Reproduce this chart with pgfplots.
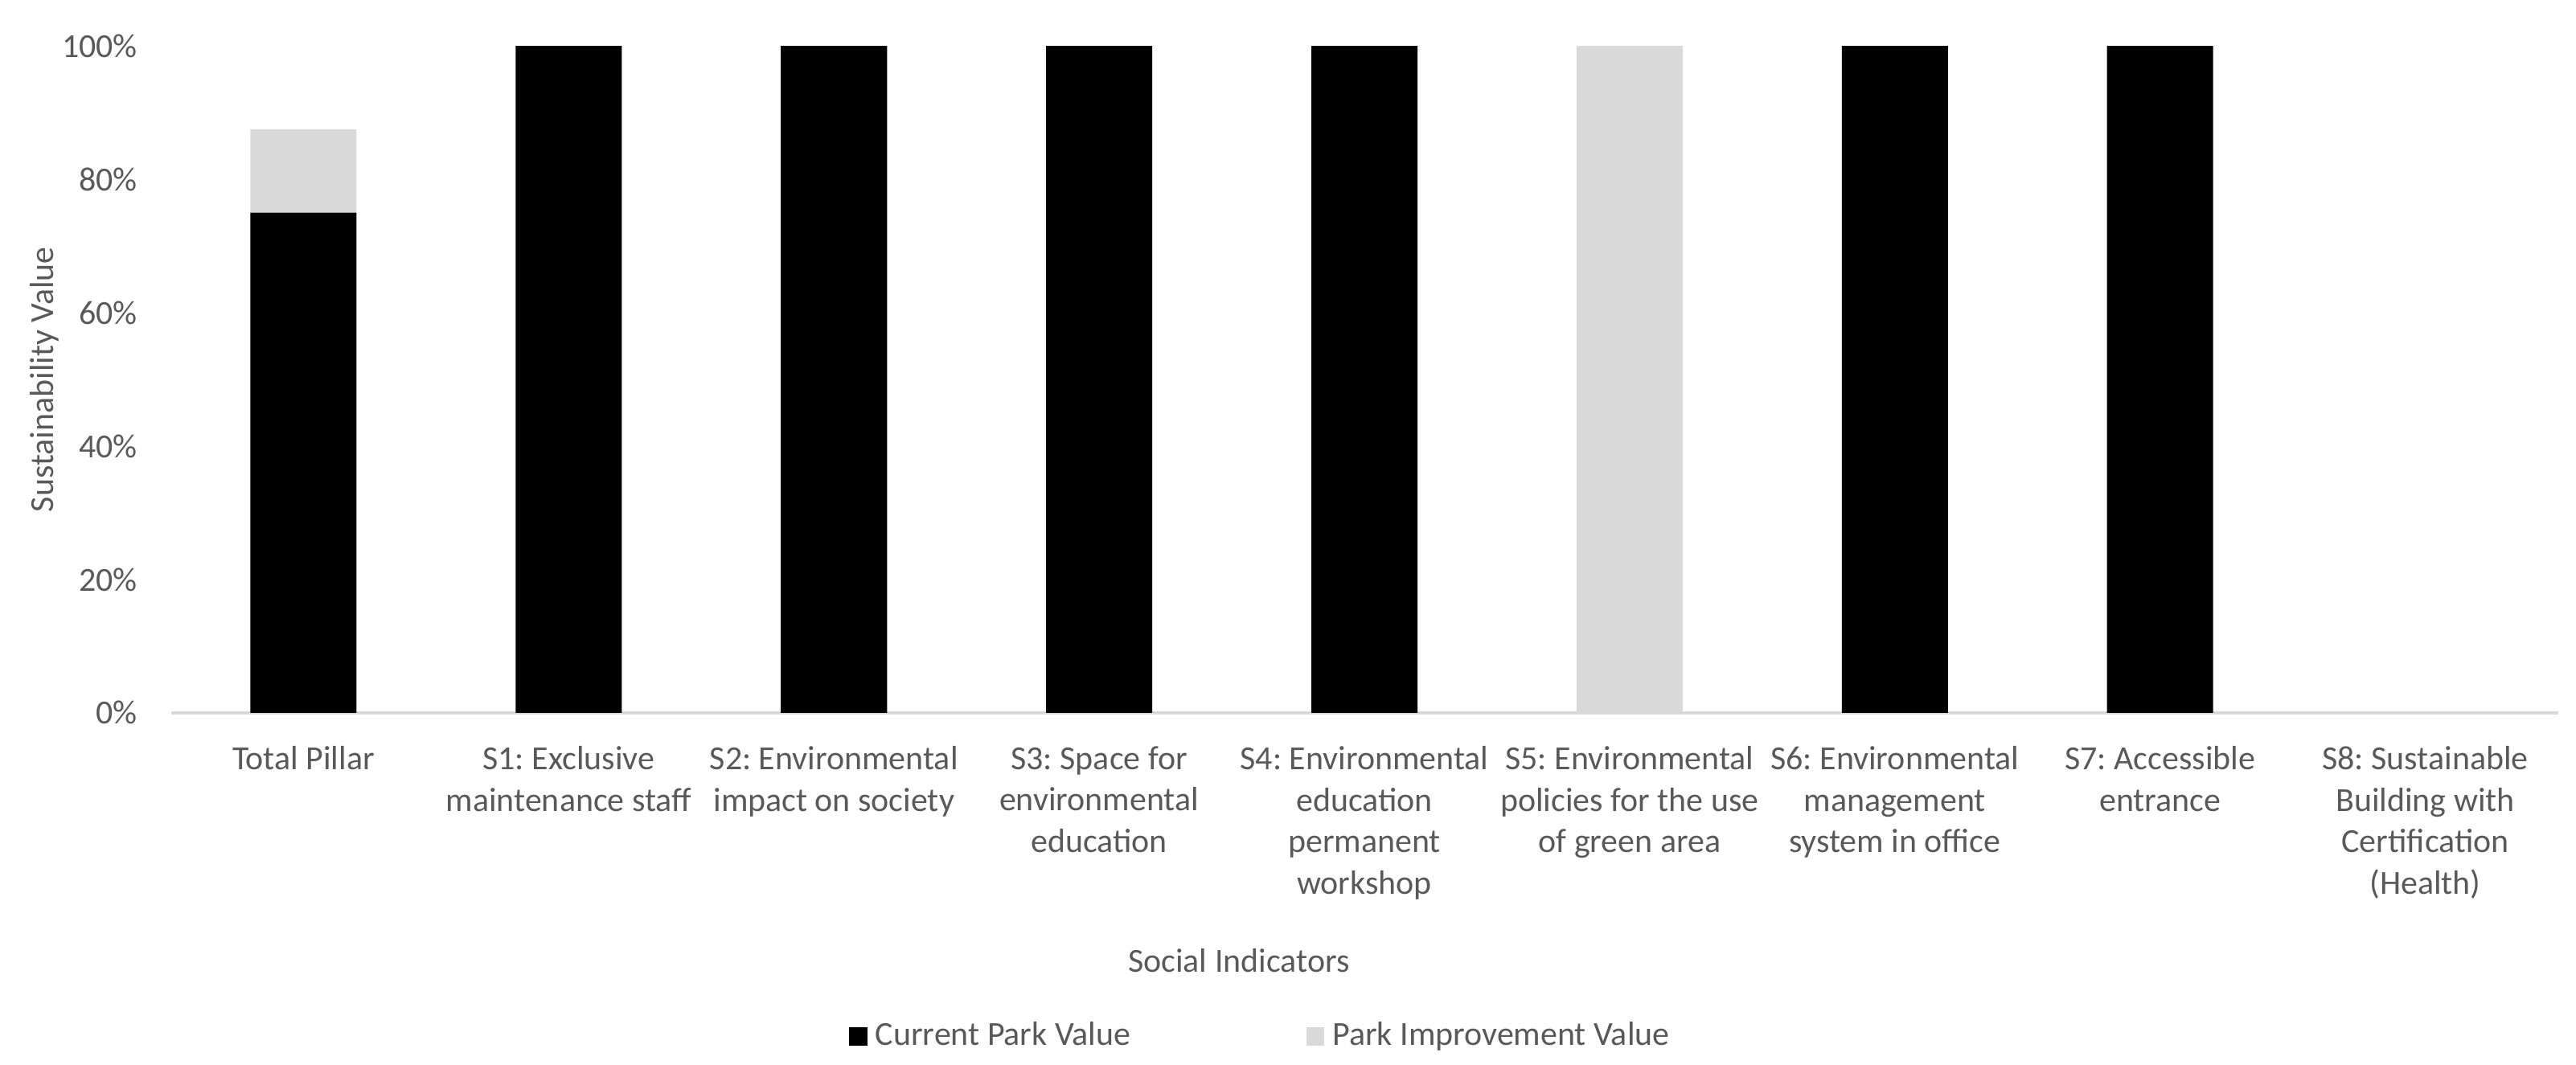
\documentclass[border=0pt]{standalone}
\usepackage{pgfplots}
\pgfplotsset{compat=1.18}
\usepackage{fontspec}
\setmainfont{Carlito}
\definecolor{txt}{HTML}{595959}
\definecolor{lgray}{HTML}{D9D9D9}
\begin{document}
\frenchspacing
\begin{tikzpicture}
\begin{axis}[
    name=ax,
    scale only axis,
    width=726.5bp,
    height=203bp,
    ybar stacked,
    bar width=32.3bp,
    xmin=-0.5, xmax=8.5,
    ymin=0, ymax=100,
    axis x line*=bottom,
    axis y line*=left,
    x axis line style={lgray, line width=1bp, -},
    y axis line style={draw=none},
    ytick={0,20,...,100},
    yticklabel={\pgfmathprintnumber{\tick}\%},
    /pgf/number format/assume math mode=true,
    major tick length=0pt,
    xtick=data,
    xticklabels={Total Pillar,
        S1: Exclusive\\maintenance staff,
        S2: Environmental\\impact on society,
        S3: Space for\\environmental\\education,
        S4: Environmental\\education\\permanent\\workshop,
        S5: Environmental\\policies for the use\\of green area,
        S6: Environmental\\management\\system in office,
        S7: Accessible\\entrance,
        S8: Sustainable\\Building with\\Certification\\(Health)},
    font=\fontsize{10.3}{12.65}\selectfont,
    every tick label/.append style={txt},
    xticklabel style={align=center, anchor=north, inner sep=0pt, yshift=-10bp},
    yticklabel style={anchor=east, inner sep=0pt, xshift=-10bp},
    ylabel={Sustainability Value},
    ylabel style={txt, at={([xshift=-38.5bp]axis description cs:0,0.5)}, anchor=center},
    xlabel={Social Indicators},
    xlabel style={txt, at={([yshift=-75.5bp]axis description cs:0.4474,0)}, anchor=center},
    legend columns=2,
    legend style={draw=none, at={([yshift=-98.5bp]axis description cs:0.4577,0)}, anchor=center,
        inner sep=0pt, nodes={inner sep=2.5bp, text=txt},
        /tikz/every even column/.append style={column sep=51bp}},
]
\addplot[fill=black, draw=none,
    legend image code/.code={\fill[black] (0bp,-2.75bp) rectangle (5.5bp,2.75bp);}]
    coordinates {(0,75) (1,100) (2,100) (3,100) (4,100) (5,0) (6,100) (7,100) (8,0)};
\addlegendentry{Current Park Value}
\addplot[fill=lgray, draw=none,
    legend image code/.code={\fill[lgray] (0bp,-2.75bp) rectangle (5.5bp,2.75bp);}]
    coordinates {(0,12.5) (1,0) (2,0) (3,0) (4,0) (5,100) (6,0) (7,0) (8,0)};
\addlegendentry{Park Improvement Value}
\end{axis}
\pgfresetboundingbox
\path ([xshift=-52bp,yshift=-107bp]ax.south west) rectangle ([xshift=5.5bp,yshift=14bp]ax.north east);
\end{tikzpicture}
\end{document}
